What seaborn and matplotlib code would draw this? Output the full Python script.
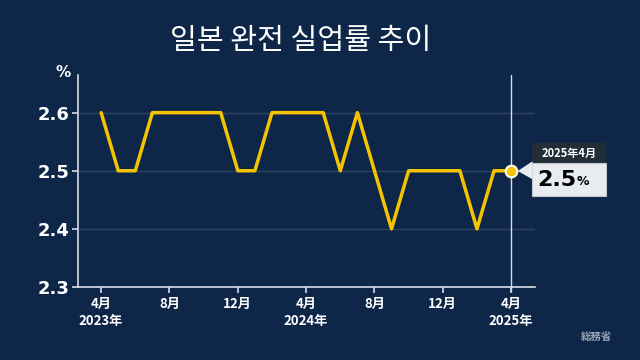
import numpy as np
import pandas as pd
import matplotlib
matplotlib.use("Agg")
import matplotlib.pyplot as plt
import seaborn as sns

# Data: Japan unemployment rate, Apr 2023 - Apr 2025
months = pd.date_range("2023-04-01", "2025-04-01", freq="MS")
rate = [2.6, 2.5, 2.5, 2.6, 2.6, 2.6, 2.6, 2.6, 2.5, 2.5, 2.6, 2.6, 2.6,
        2.6, 2.5, 2.6, 2.5, 2.4, 2.5, 2.5, 2.5, 2.5, 2.4, 2.5, 2.5]
yticks = [2.3, 2.4, 2.5, 2.6]
tick_labels = ["4月\n2023年", "8月", "12月", "4月\n2024年", "8月", "12月", "4月\n2025年"]

title = "일본 완전 실업률 추이"
source = "総務省"
last_label = "2025年4月"

bg = "#0e2647"
yellow = "#f5c400"

sns.set_style("dark")
plt.rcParams["font.family"] = ["Noto Sans CJK JP", "DejaVu Sans"]

df = pd.DataFrame({"idx": np.arange(len(rate)), "rate": rate})

fig = plt.figure(figsize=(6.4, 3.6), dpi=100, facecolor=bg)
ax = fig.add_axes([0.122, 0.203, 0.714, 0.589])
ax.set_facecolor(bg)

# faint gridlines
for y in yticks[1:]:
    ax.axhline(y, color="#2e4463", lw=1, zorder=0)

sns.lineplot(data=df, x="idx", y="rate", color=yellow, lw=2.5, ax=ax, zorder=3)

last = len(rate) - 1
ax.axvline(last, color="#d8dde6", lw=1, zorder=2, ymin=-0.02, clip_on=False)
ax.scatter([last], [rate[-1]], s=70, color=yellow, edgecolor="white", lw=1.5, zorder=5)

ax.set_xlim(-1.35, 25.4)
ax.set_ylim(2.3, 2.665)
ax.set_yticks(yticks)
ax.set_yticklabels([f"{v:.1f}" for v in yticks])
ax.set_xticks(np.arange(0, len(rate), 4))
ax.set_xticklabels(tick_labels)
ax.set_xlabel("")
ax.set_ylabel("")
ax.grid(False)

for s in ["top", "right"]:
    ax.spines[s].set_visible(False)
for s in ["left", "bottom"]:
    ax.spines[s].set_visible(True)
    ax.spines[s].set_color("#d8dde6")
    ax.spines[s].set_linewidth(1.2)

ax.tick_params(axis="y", colors="white", labelsize=13, length=4, width=1.2, pad=2)
ax.tick_params(axis="x", colors="white", labelsize=9.5, length=4, width=1.2, pad=3,
               direction="out", bottom=True)
ax.tick_params(axis="x", color="#d8dde6")
ax.tick_params(axis="y", color="#d8dde6", left=True)
for t in ax.get_yticklabels():
    t.set_fontweight("bold")
    t.set_family(["DejaVu Sans"])
for t in ax.get_xticklabels():
    t.set_fontweight("bold")
    t.set_linespacing(1.35)

fig.text(0.098, 0.785, "%", color="white", fontsize=11, fontweight="bold",
         family=["DejaVu Sans"], ha="center")

fig.text(0.47, 0.885, title, color="white", fontsize=21, ha="center", va="center",
         family=["Noto Sans CJK KR", "DejaVu Sans"])

fig.text(0.932, 0.055, source, color="#9aa5b5", fontsize=7.5, fontweight="bold", ha="center")

# tooltip box
x0, y0, w = 0.831, 0.547, 0.116
fig.patches.append(plt.Rectangle((x0, y0), w, 0.056, transform=fig.transFigure,
                                 facecolor="#222d38", edgecolor="none", zorder=6))
fig.patches.append(plt.Rectangle((x0, y0 - 0.091), w, 0.091, transform=fig.transFigure,
                                 facecolor="#e8ecf0", edgecolor="#c0c6cc", lw=0.8, zorder=6))
fig.text(x0 + w / 2, y0 + 0.028, last_label, color="white", fontsize=8, fontweight="bold",
         ha="center", va="center", zorder=7)
fig.text(x0 + 0.008, y0 - 0.046, f"{rate[-1]:.1f}", color="black", fontsize=16, fontweight="bold",
         ha="left", va="center", family=["DejaVu Sans"], zorder=7)
fig.text(x0 + 0.07, y0 - 0.052, "%", color="black", fontsize=9, fontweight="bold",
         ha="left", va="center", family=["DejaVu Sans"], zorder=7)
tri = plt.Polygon([[x0 + 0.001, y0 + 0.005], [x0 - 0.022, y0 - 0.022], [x0 + 0.001, y0 - 0.045]],
                  transform=fig.transFigure, facecolor="#e8ecf0", edgecolor="none", zorder=6)
fig.patches.append(tri)

fig.savefig("out.png", dpi=100, facecolor=bg)
